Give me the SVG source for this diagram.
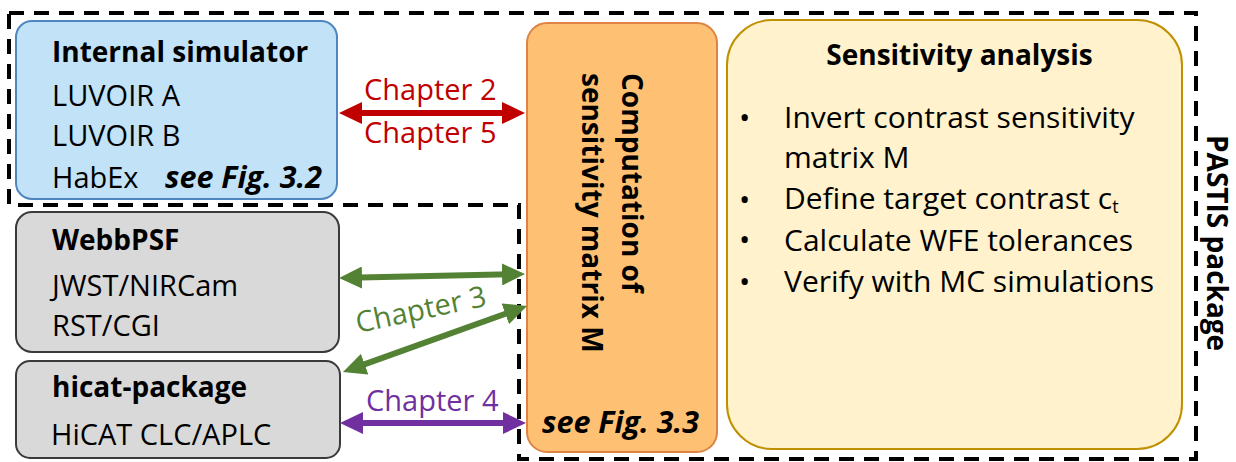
<svg xmlns="http://www.w3.org/2000/svg" width="1236" height="462" viewBox="0 0 1236 462">
<style>
text{font-family:"Open Sans","Noto Sans","DejaVu Sans",sans-serif;fill:#000;}
.r{font-size:29px;}
.rl{font-size:30px;}
.b{font-size:28px;font-weight:bold;}
.bi{font-size:30.5px;font-weight:bold;font-style:italic;}
.box{stroke-width:2;}
.ch{font-size:29px;}
</style>
<defs>
<marker id="ar" viewBox="0 0 23 22" markerUnits="userSpaceOnUse" markerWidth="23" markerHeight="22" refX="13" refY="11" orient="auto-start-reverse"><path d="M0,0 L23,11 L0,22 z" fill="#C00000"/></marker>
<marker id="ag" viewBox="0 0 23 22" markerUnits="userSpaceOnUse" markerWidth="23" markerHeight="22" refX="13" refY="11" orient="auto-start-reverse"><path d="M0,0 L23,11 L0,22 z" fill="#548235"/></marker>
<marker id="ap" viewBox="0 0 23 22" markerUnits="userSpaceOnUse" markerWidth="23" markerHeight="22" refX="13" refY="11" orient="auto-start-reverse"><path d="M0,0 L23,11 L0,22 z" fill="#7030A0"/></marker>
</defs>
<rect width="1236" height="462" fill="#fff"/>

<g id="pastis-package">
<path d="M9,13 H1196 V459 H519 V205 H9 Z" fill="none" stroke="#000" stroke-width="4" stroke-dasharray="15 10"/>
<text class="b" font-size="32" transform="translate(1207,135) rotate(90)">PASTIS package</text>
</g>

<g id="internal-simulator">
<rect x="16" y="21" width="321" height="178" rx="16" fill="#C2E2F7" stroke="#4F86C0" class="box"/>
<text class="b" x="52" y="62">Internal simulator</text>
<text class="r" x="52" y="106">LUVOIR A</text>
<text class="r" x="52" y="146">LUVOIR B</text>
<text class="r" x="52" y="188">HabEx</text>
<text class="bi" x="165" y="188">see Fig. 3.2</text>
</g>

<g id="webbpsf">
<rect x="16" y="212" width="323" height="140" rx="16" fill="#D9D9D9" stroke="#3A3A3A" class="box"/>
<text class="b" x="52" y="250">WebbPSF</text>
<text class="r" x="52" y="296">JWST/NIRCam</text>
<text class="r" x="52" y="336">RST/CGI</text>
</g>

<g id="hicat-package">
<rect x="16" y="361" width="324" height="97" rx="14" fill="#D9D9D9" stroke="#3A3A3A" class="box"/>
<text class="b" x="52" y="397">hicat-package</text>
<text class="r" x="51" y="445">HiCAT CLC/APLC</text>
</g>

<g id="computation">
<rect x="527" y="23" width="190" height="429" rx="20" fill="#FEC173" stroke="#DE8344" class="box"/>
<text class="b" font-size="29.5" transform="translate(622,73) rotate(90)">Computation of</text>
<text class="b" font-size="29.5" transform="translate(582,73) rotate(90)">sensitivity matrix M</text>
<text class="bi" x="542" y="433">see Fig. 3.3</text>
</g>

<g id="sensitivity-analysis">
<rect x="727" y="20" width="455" height="429" rx="45" fill="#FFF2CC" stroke="#BF9000" class="box"/>
<text class="b" x="959.5" y="65" text-anchor="middle">Sensitivity analysis</text>
<text class="rl" x="739" y="128">•</text>
<text class="rl" x="784" y="128">Invert contrast sensitivity</text>
<text class="rl" x="784" y="168">matrix M</text>
<text class="rl" x="739" y="210">•</text>
<text class="rl" x="784" y="209">Define target contrast c<tspan font-size="18" dy="4">t</tspan></text>
<text class="rl" x="739" y="250">•</text>
<text class="rl" x="784" y="251">Calculate WFE tolerances</text>
<text class="rl" x="739" y="292">•</text>
<text class="rl" x="784" y="292">Verify with MC simulations</text>
</g>

<g id="connectors" stroke-width="6" fill="none">
<line x1="349" y1="113" x2="515" y2="113" stroke="#C00000" marker-start="url(#ar)" marker-end="url(#ar)"/>
<line x1="349" y1="277.8" x2="515" y2="274.2" stroke="#548235" marker-start="url(#ag)" marker-end="url(#ag)"/>
<line x1="352.4" y1="368.6" x2="517.6" y2="309.4" stroke="#548235" marker-start="url(#ag)" marker-end="url(#ag)"/>
<line x1="350" y1="423" x2="516" y2="423" stroke="#7030A0" marker-start="url(#ap)" marker-end="url(#ap)"/>
</g>
<g id="connector-labels">
<text class="ch" x="364" y="100" style="fill:#C00000">Chapter 2</text>
<text class="ch" x="364" y="143" style="fill:#C00000">Chapter 5</text>
<text class="ch" transform="translate(358,333) rotate(-12)" style="fill:#548235">Chapter 3</text>
<text class="ch" x="366" y="411" style="fill:#7030A0">Chapter 4</text>
</g>
</svg>
